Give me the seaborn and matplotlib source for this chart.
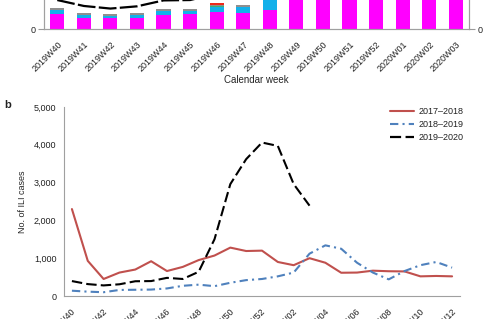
import numpy as np
import pandas as pd
import seaborn as sns
import matplotlib.pyplot as plt
from matplotlib.ticker import FuncFormatter
from matplotlib.transforms import ScaledTranslation

# ---- panel a (only the lower strip is visible) ----
weeks_a = ['2019W40', '2019W41', '2019W42', '2019W43', '2019W44', '2019W45',
           '2019W46', '2019W47', '2019W48', '2019W49', '2019W50', '2019W51',
           '2019W52', '2020W01', '2020W02', '2020W03']
pos_magenta = [30, 23, 23, 23, 29, 31, 35, 32, 39, 120, 150, 180, 200, 210, 190, 170]
pos_blue = [9, 5, 3.5, 6, 8, 6, 9, 13, 40, 30, 35, 40, 45, 45, 40, 35]
pos_green = [0, 0, 0, 0, 0, 0, 3, 0, 0, 0, 0, 0, 0, 0, 0, 0]
pos_gray = [3, 4, 3.5, 3, 4, 4.5, 2, 3.5, 3, 2, 2, 2, 2, 2, 2, 2]
pos_red = [0, 0, 0, 0, 0, 0, 3, 0, 0, 0, 0, 0, 0, 0, 0, 0]

# ---- panel b ----
weeks_b = ['2019W40', '2019W41', '2019W42', '2019W43', '2019W44', '2019W45',
           '2019W46', '2019W47', '2019W48', '2019W49', '2019W50', '2019W51',
           '2019W52', '2020W01', '2020W02', '2020W03', '2020W04', '2020W05',
           '2020W06', '2020W07', '2020W08', '2020W09', '2020W10', '2020W11',
           '2020W12']
ili_1718 = [2300, 930, 450, 620, 700, 920, 660, 770, 950, 1070, 1280, 1190, 1200,
            900, 815, 1000, 880, 615, 620, 670, 655, 650, 520, 530, 520]
ili_1819 = [140, 115, 100, 160, 165, 170, 200, 270, 300, 260, 350, 420, 450,
            520, 620, 1120, 1340, 1250, 880, 620, 440, 660, 815, 900, 750]
ili_1920 = [395, 315, 280, 310, 390, 395, 480, 450, 640, 1500, 2960, 3620, 4060,
            3970, 2960, 2390]

seasons = ['2017\u20132018', '2018\u20132019', '2019\u20132020']

sns.set_theme(style='white')
plt.rcParams['font.family'] = ['Liberation Sans', 'DejaVu Sans']
plt.rcParams['text.color'] = '#222222'
plt.rcParams['xtick.color'] = '#9a9a9a'
plt.rcParams['ytick.color'] = '#9a9a9a'
plt.rcParams['xtick.labelcolor'] = '#222222'
plt.rcParams['ytick.labelcolor'] = '#222222'
spine_col = '#a0a0a0'
fs = 6.5

fig = plt.figure(figsize=(5, 3.19), dpi=100)
W, H = 500.0, 319.0

# ================= panel a =================
axa = fig.add_axes([44 / W, (H - 29.3) / H, 425 / W, 100 / H])
layers = [pos_magenta, pos_blue, pos_green, pos_gray, pos_red]
colors = ['#ff00ff', '#12b0ea', '#3fae72', '#8f8f8f', '#ee2a1a']
cum = np.cumsum(np.array(layers, dtype=float), axis=0)
for k in range(len(layers) - 1, -1, -1):
    sns.barplot(x=weeks_a, y=cum[k], color=colors[k], saturation=1,
                width=0.53, ax=axa, linewidth=0)
axa.set_xlim(-0.5, len(weeks_a) - 0.5)
axa.set_ylim(0, 200)
axa.set_yticks([0, 100, 200])
axa.set_yticklabels(['0', '', ''])
axa.tick_params(axis='y', length=4, width=0.8, labelsize=fs, pad=2)
axa.tick_params(axis='x', which='major', length=0, labelsize=fs, pad=10)
axa.set_xticks(np.arange(-0.5, len(weeks_a), 1), minor=True)
axa.tick_params(axis='x', which='minor', length=3, width=0.8, color=spine_col)
for lab in axa.get_xticklabels():
    lab.set_rotation(45)
    lab.set_ha('right')
    lab.set_va('center')
    lab.set_rotation_mode('anchor')
    lab.set_transform(lab.get_transform() + ScaledTranslation(0.034, 0, fig.dpi_scale_trans))
axa.set_xlabel('Calendar week', fontsize=fs + 0.5)
axa.xaxis.set_label_coords(0.5, -0.46)
axa.set_ylabel('')

axr = axa.twinx()
sns.lineplot(x=np.arange(len(ili_1920)), y=ili_1920, ax=axr, color='black',
             lw=1.6, dashes=False)
axr.lines[0].set_dashes((8, 1.5))
axr.set_ylim(0, 1350)
axr.set_yticks([0, 500, 1000])
axr.set_yticklabels(['0', '', ''])
axr.tick_params(axis='y', length=4, width=0.8, labelsize=fs, pad=2)
axr.set_xlim(-0.5, len(weeks_a) - 0.5)

for ax in (axa, axr):
    for side in ('top',):
        ax.spines[side].set_visible(False)
    for side in ('left', 'right', 'bottom'):
        ax.spines[side].set_color(spine_col)
        ax.spines[side].set_linewidth(0.8)

# ================= panel b =================
axb = fig.add_axes([64 / W, 23 / H, 396 / W, 189 / H])
df = pd.concat([
    pd.DataFrame({'idx': np.arange(len(ili_1718)), 'cases': ili_1718, 'season': seasons[0]}),
    pd.DataFrame({'idx': np.arange(len(ili_1819)), 'cases': ili_1819, 'season': seasons[1]}),
    pd.DataFrame({'idx': np.arange(len(ili_1920)), 'cases': ili_1920, 'season': seasons[2]}),
])
palette = {seasons[0]: '#c0504d', seasons[1]: '#4f81bd', seasons[2]: 'black'}
dashes = {seasons[0]: '', seasons[1]: (4, 2, 1, 2), seasons[2]: (5, 2)}
sns.lineplot(data=df, x='idx', y='cases', hue='season', style='season',
             palette=palette, dashes=dashes, lw=1.5, ax=axb)
for ln in axb.lines:
    if ln.get_label() == seasons[2]:
        ln.set_linewidth(1.6)

axb.set_xlim(-0.5, len(weeks_b) - 0.5)
axb.set_ylim(0, 5000)
axb.set_yticks(np.arange(0, 5001, 1000))
axb.yaxis.set_major_formatter(FuncFormatter(lambda v, p: f'{int(v):,}'))
axb.tick_params(axis='y', length=2.5, width=0.8, labelsize=fs, pad=3)
axb.set_xticks(np.arange(0, len(weeks_b), 2))
axb.set_xticklabels(weeks_b[::2])
axb.tick_params(axis='x', which='major', length=0, labelsize=fs, pad=10)
axb.set_xticks(np.arange(-0.5, len(weeks_b), 1), minor=True)
axb.tick_params(axis='x', which='minor', length=3, width=0.8, color=spine_col)
for lab in axb.get_xticklabels():
    lab.set_rotation(45)
    lab.set_ha('right')
    lab.set_va('center')
    lab.set_rotation_mode('anchor')
    lab.set_transform(lab.get_transform() + ScaledTranslation(0.025, 0, fig.dpi_scale_trans))
axb.set_xlabel('')
axb.set_ylabel('No. of ILI cases', fontsize=fs)
axb.yaxis.set_label_coords(-0.093, 0.5)
for side in ('top', 'right'):
    axb.spines[side].set_visible(False)
for side in ('left', 'bottom'):
    axb.spines[side].set_color(spine_col)
    axb.spines[side].set_linewidth(0.8)

handles, labels = axb.get_legend_handles_labels()
axb.legend(handles, labels, loc='upper left', bbox_to_anchor=(390 / W, 1 - 107 / H),
           bbox_transform=fig.transFigure, frameon=False, fontsize=fs,
           handlelength=2.7, handletextpad=0.5, labelspacing=0.45,
           borderpad=0, borderaxespad=0)

fig.text(4 / W, 1 - 105 / H, 'b', fontsize=8, fontweight='bold', va='center')

fig.savefig('out.png', dpi=100)
